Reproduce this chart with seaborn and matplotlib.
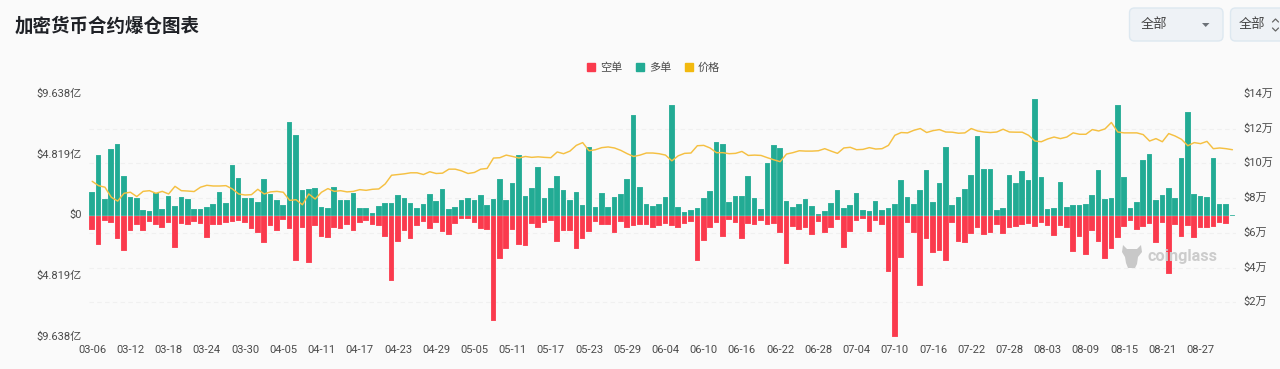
import numpy as np
import pandas as pd
import seaborn as sns
import matplotlib
matplotlib.use("Agg")
import matplotlib.pyplot as plt
from matplotlib.lines import Line2D
from matplotlib.patches import FancyBboxPatch, Polygon
from matplotlib.transforms import IdentityTransform, ScaledTranslation

# long liquidations, 100M USD
long_liq = [
    1.90, 4.79, 1.32, 5.24, 5.68, 3.17, 1.48, 1.37, 0.45, 0.34,
    1.77, 0.53, 1.53, 0.79, 1.45, 1.27, 0.50, 0.50, 0.66, 0.90,
    1.85, 1.00, 4.02, 2.96, 1.35, 1.40, 1.06, 2.91, 1.72, 1.24,
    0.82, 7.43, 6.35, 2.04, 2.14, 2.17, 0.71, 0.58, 2.25, 1.19,
    1.22, 1.75, 0.61, 0.63, 0.21, 0.77, 1.00, 0.98, 1.59, 1.40,
    1.03, 0.63, 0.95, 1.69, 1.16, 2.14, 0.53, 0.71, 1.19, 1.40,
    1.24, 1.64, 0.85, 1.32, 2.86, 1.22, 2.54, 4.79, 1.53, 2.22,
    3.83, 1.35, 2.19, 3.12, 2.01, 1.19, 1.90, 0.85, 5.47, 0.69,
    1.77, 0.69, 1.45, 1.69, 2.91, 7.98, 2.27, 0.90, 0.74, 0.90,
    1.48, 8.78, 0.71, 0.29, 0.42, 0.63, 1.40, 1.98, 5.84, 5.71,
    1.08, 1.53, 1.56, 3.17, 1.40, 0.50, 4.20, 5.61, 5.37, 1.14,
    0.71, 0.93, 1.27, 0.79, 0.13, 0.32, 1.03, 2.04, 0.61, 0.85,
    1.77, 0.45, 0.37, 1.14, 0.45, 0.61, 0.93, 2.83, 1.45, 0.93,
    2.04, 3.60, 1.11, 2.59, 5.45, 0.85, 1.48, 2.12, 3.20, 6.29,
    3.70, 3.65, 0.45, 0.56, 3.23, 2.56, 3.52, 2.83, 9.23, 3.09,
    0.50, 0.61, 2.64, 0.71, 0.87, 0.87, 0.90, 1.64, 3.57, 1.27,
    1.37, 8.80, 3.04, 0.56, 1.06, 4.42, 4.86, 1.24, 1.61, 2.22,
    1.35, 4.57, 8.20, 1.67, 1.53, 1.45, 4.60, 0.93, 0.95, 0.05,
]

# short liquidations, 100M USD
short_liq = [
    1.14, 2.33, 0.40, 0.61, 1.88, 2.78, 1.19, 0.79, 1.19, 0.50,
    0.74, 1.03, 0.63, 2.56, 0.69, 0.74, 0.50, 0.71, 1.77, 0.79,
    0.79, 0.63, 0.48, 0.42, 0.56, 1.11, 1.35, 2.22, 0.82, 1.24,
    0.32, 1.08, 3.62, 0.98, 3.75, 0.82, 1.72, 1.77, 1.03, 1.08,
    0.74, 1.19, 0.61, 0.45, 0.77, 0.87, 1.72, 5.18, 2.12, 1.24,
    1.85, 0.85, 0.50, 1.06, 0.61, 1.32, 1.51, 0.71, 0.26, 0.26,
    0.63, 1.11, 1.14, 8.36, 3.49, 2.67, 1.14, 2.35, 2.38, 0.71,
    0.98, 0.63, 0.45, 2.14, 1.19, 1.24, 2.64, 1.90, 1.32, 0.53,
    0.74, 0.74, 1.40, 0.53, 1.03, 0.85, 0.74, 0.74, 1.03, 0.87,
    0.66, 0.87, 1.03, 0.71, 0.53, 3.57, 2.01, 0.98, 0.61, 1.72,
    0.34, 0.58, 1.88, 0.69, 0.79, 0.42, 0.79, 0.66, 1.35, 3.81,
    0.93, 1.16, 0.98, 1.56, 0.53, 1.40, 1.03, 0.34, 2.59, 1.30,
    0.40, 0.24, 1.32, 0.45, 0.79, 4.49, 9.64, 3.38, 0.63, 1.35,
    5.63, 1.90, 3.01, 2.80, 3.62, 0.61, 2.14, 2.19, 1.48, 1.03,
    1.56, 1.37, 0.79, 1.45, 0.98, 0.93, 0.79, 0.71, 0.93, 0.61,
    0.87, 1.64, 0.87, 1.00, 2.86, 1.67, 3.17, 1.24, 2.14, 3.44,
    2.64, 1.77, 0.93, 0.40, 1.14, 0.93, 0.71, 2.19, 0.61, 4.68,
    0.77, 1.69, 0.85, 1.77, 1.03, 0.98, 0.93, 0.63, 0.69, 0.00,
]

# price, 10k USD
price = [
    8.97, 8.72, 8.63, 8.05, 7.83, 8.28, 8.34, 8.09, 8.39, 8.43,
    8.28, 8.39, 8.24, 8.68, 8.43, 8.41, 8.38, 8.63, 8.74, 8.70,
    8.70, 8.72, 8.53, 8.24, 8.18, 8.20, 8.51, 8.24, 8.36, 8.39,
    8.34, 7.87, 7.91, 7.62, 8.24, 7.95, 8.34, 8.55, 8.39, 8.43,
    8.36, 8.39, 8.49, 8.45, 8.51, 8.53, 8.82, 9.32, 9.36, 9.40,
    9.46, 9.46, 9.36, 9.52, 9.42, 9.44, 9.67, 9.67, 9.57, 9.42,
    9.48, 9.67, 9.71, 10.31, 10.33, 10.48, 10.40, 10.31, 10.40, 10.35,
    10.38, 10.35, 10.33, 10.66, 10.56, 10.71, 11.04, 11.20, 10.73, 10.79,
    10.91, 10.95, 10.89, 10.75, 10.56, 10.40, 10.48, 10.60, 10.60, 10.56,
    10.48, 10.15, 10.44, 10.58, 10.60, 11.02, 11.04, 10.89, 10.62, 10.62,
    10.56, 10.58, 10.69, 10.46, 10.48, 10.46, 10.33, 10.21, 10.10, 10.54,
    10.62, 10.73, 10.71, 10.71, 10.73, 10.85, 10.71, 10.58, 10.89, 10.93,
    10.79, 10.81, 10.91, 10.83, 10.85, 11.04, 11.62, 11.78, 11.76, 11.91,
    12.01, 11.78, 11.89, 11.95, 11.81, 11.80, 11.74, 11.76, 12.01, 11.87,
    11.81, 11.78, 11.81, 11.97, 11.81, 11.80, 11.80, 11.62, 11.29, 11.25,
    11.41, 11.52, 11.43, 11.52, 11.76, 11.68, 11.68, 11.95, 11.87, 11.99,
    12.36, 11.81, 11.76, 11.76, 11.76, 11.66, 11.29, 11.43, 11.25, 11.72,
    11.58, 11.39, 11.02, 11.20, 11.14, 11.27, 10.85, 10.89, 10.85, 10.79,
]

date_ticks = [
    "03-06", "03-12", "03-18", "03-24", "03-30", "04-05", "04-11", "04-17",
    "04-23", "04-29", "05-05", "05-11", "05-17", "05-23", "05-29", "06-04",
    "06-10", "06-16", "06-22", "06-28", "07-04", "07-10", "07-16", "07-22",
    "07-28", "08-03", "08-09", "08-15", "08-21", "08-27",
]
left_ticks = [-9.638, -4.819, 0, 4.819, 9.638]
left_labels = ["$9.638亿", "$4.819亿", "$0", "$4.819亿", "$9.638亿"]
right_ticks = [2, 4, 6, 8, 10, 12, 14]
right_labels = ["$2万", "$4万", "$6万", "$8万", "$10万", "$12万", "$14万"]

GREEN = "#22ab94"
RED = "#fa3a4d"
GOLD = "#f5c042"
BG = "#fafafa"
W, H = 1280, 369

sns.set_theme(style="white")
plt.rcParams["font.family"] = ["Roboto", "Noto Sans CJK SC", "DejaVu Sans"]

df = pd.DataFrame({
    "day": np.arange(len(long_liq)),
    "long": long_liq,
    "short": -np.array(short_liq),
    "price": price,
})

fig = plt.figure(figsize=(W / 100, H / 100), dpi=100, facecolor=BG)
ax = fig.add_axes([89 / W, 1 - 337 / H, 1146.6 / W, 243 / H], facecolor=BG)


def px(x, y):
    # figure fraction from reference pixels
    return x / W, 1 - y / H


sns.barplot(data=df, x="day", y="long", color=GREEN, saturation=1, width=0.88,
            edgecolor="#ffffff60", linewidth=0.3, ax=ax)
sns.barplot(data=df, x="day", y="short", color=RED, saturation=1, width=0.88,
            edgecolor="#ffffff60", linewidth=0.3, ax=ax)

ax.set_xlim(-0.5, 179.5)
ax.set_ylim(-9.638, 9.638)
ax.set_xlabel("")
ax.set_ylabel("")
ax.set_xticks(np.arange(len(date_ticks)) * 6)
ax.set_xticklabels(date_ticks)
ax.set_yticks(left_ticks)
ax.set_yticklabels(left_labels)
ax.tick_params(axis="both", length=0, labelsize=8, labelcolor="#4a4a4a")
ax.tick_params(axis="x", pad=6)
ax.tick_params(axis="y", pad=5.2)

# gridlines sit on the price scale but go behind the bars
ax.set_yticks([-9.638 + v / 14 * 19.276 for v in [0] + right_ticks], minor=True)
ax.tick_params(axis="y", which="minor", length=0)
ax.grid(which="minor", axis="y", color="#f0f0f0", linestyle=(0, (4, 3)), linewidth=0.8)
ax.grid(which="major", visible=False)
ax.set_axisbelow(True)
sns.despine(ax=ax, left=True, bottom=True)

ax2 = ax.twinx()
sns.lineplot(data=df, x="day", y="price", color=GOLD, linewidth=1.05, ax=ax2)
ax2.set_ylim(0, 14)
ax2.set_ylabel("")
ax2.set_yticks(right_ticks)
ax2.set_yticklabels(right_labels)
ax2.tick_params(axis="y", length=0, labelsize=8, labelcolor="#4a4a4a", pad=5.5)
sns.despine(ax=ax2, left=True, bottom=True, right=True)
ax2.patch.set_visible(False)

# labels sit about a pixel above their ticks in the reference
lift = ScaledTranslation(0, 1.2 / 100, fig.dpi_scale_trans)
for lab in ax.get_yticklabels() + ax2.get_yticklabels():
    lab.set_transform(lab.get_transform() + lift)

handles = [
    Line2D([], [], marker="s", linestyle="", color=RED, markersize=6.3, label="空单"),
    Line2D([], [], marker="s", linestyle="", color=GREEN, markersize=6.3, label="多单"),
    Line2D([], [], marker="s", linestyle="", color="#f2b90f", markersize=6.3, label="价格"),
]
fig.legend(handles=handles, loc="center", bbox_to_anchor=px(653, 67.5), ncol=3,
           frameon=False, fontsize=8, labelcolor="#4a4a4a", handlelength=1,
           handletextpad=0.3, columnspacing=1.1, borderpad=0)

x, y = px(15, 26)
fig.text(x, y, "加密货币合约爆仓图表", fontsize=13.3, fontweight="bold", color="#1f2126", va="center")

# dropdowns
for x0, x1 in [(1129.5, 1223), (1230.5, 1300)]:
    fig.add_artist(FancyBboxPatch((x0, H - 41), x1 - x0, 33, boxstyle="round,pad=0,rounding_size=5",
                                  transform=IdentityTransform(), facecolor="#eef2f6",
                                  edgecolor="#dde8f0", linewidth=1))
for tx in [1141, 1239]:
    x, y = px(tx, 24.5)
    fig.text(x, y, "全部", fontsize=9.5, color="#444444", va="center")
fig.add_artist(Polygon([px(1202, 23), px(1209.5, 23), px(1205.7, 27)], closed=True,
                       transform=fig.transFigure, facecolor="#6c7278", edgecolor="none"))
for pts in ([(1272.5, 22), (1275.5, 19), (1278.5, 22)], [(1272.5, 28), (1275.5, 31), (1278.5, 28)]):
    xy = np.array([px(*p) for p in pts])
    fig.add_artist(Line2D(xy[:, 0], xy[:, 1], transform=fig.transFigure, color="#666666", linewidth=0.9))

# watermark
logo = [(1123, 245), (1127, 249), (1137, 249), (1141, 245), (1142, 252), (1138, 257),
        (1137, 264), (1135, 268), (1128, 268), (1126, 263), (1125, 257), (1122, 252)]
fig.add_artist(Polygon([px(*p) for p in logo], closed=True, transform=fig.transFigure,
                       facecolor="#c8c8c8", edgecolor="none"))
x, y = px(1148, 256)
fig.text(x, y, "coinglass", fontsize=11.7, fontweight="bold", color="#cccccc", va="center")

fig.savefig("out.png", dpi=100, facecolor=BG)
